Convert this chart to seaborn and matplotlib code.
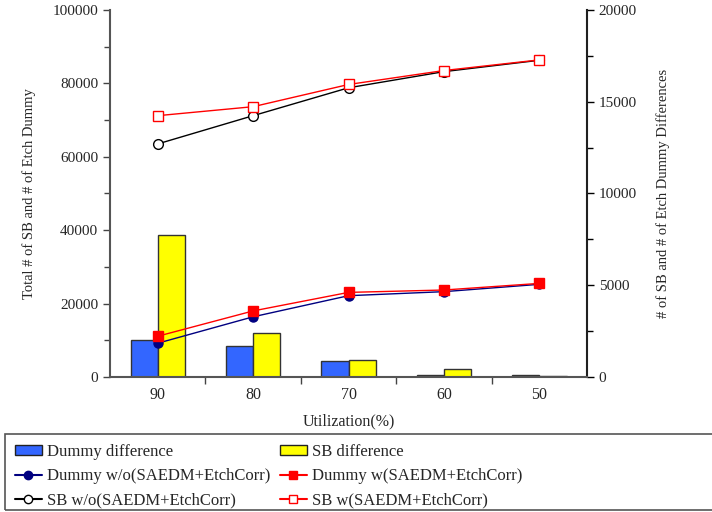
import pandas as pd
import numpy as np
import matplotlib
matplotlib.use("Agg")
import matplotlib.pyplot as plt
from matplotlib.ticker import MultipleLocator, FixedLocator
from matplotlib.lines import Line2D
from matplotlib.patches import Patch, Rectangle
import seaborn as sns

# values
util_labels = ["90", "80", "70", "60", "50"]

dummy_wo = [9200, 16400, 22150, 23250, 25250]
dummy_w = [11100, 18000, 23050, 23700, 25500]
sb_wo = [63500, 71200, 78800, 83200, 86300]
sb_w = [71200, 73650, 79700, 83500, 86400]

dummy_diff = [2000, 1690, 890, 90, 90]
sb_diff = [7740, 2400, 940, 420, 30]

sns.set_theme(style="white")
plt.rcParams["font.family"] = ["Liberation Serif", "DejaVu Serif"]

fig = plt.figure(figsize=(7.12, 5.12), dpi=100)
ax = fig.add_axes([0.1545, 0.2637, 0.67, 0.7168])
ax2 = ax.twinx()

# bars (differences) on the right axis
bars = pd.DataFrame({
    "util": util_labels * 2,
    "value": dummy_diff + sb_diff,
    "series": ["Dummy difference"] * 5 + ["SB difference"] * 5,
})
sns.barplot(data=bars, x="util", y="value", hue="series", order=util_labels,
            palette=["#3366FF", "#FFFF00"], saturation=1, width=0.57,
            edgecolor="#333333", linewidth=1.0, legend=False, ax=ax2)

# lines (totals) on the left axis
line_specs = [
    (dummy_wo, "#000080", "o", "#000080", 6.5),
    (dummy_w, "#FF0000", "s", "#FF0000", 7),
    (sb_wo, "#000000", "o", "white", 7),
    (sb_w, "#FF0000", "s", "white", 7),
]
for vals, col, mk, mfc, ms in line_specs:
    df = pd.DataFrame({"util": util_labels, "value": vals})
    sns.lineplot(data=df, x="util", y="value", color=col, marker=mk,
                 markerfacecolor=mfc, markeredgecolor=col, markersize=ms,
                 markeredgewidth=1.0, linewidth=1.0, sort=False, ax=ax)

ax.set_zorder(ax2.get_zorder() + 1)
ax.patch.set_visible(False)

ax.set_xlim(-0.5, 4.5)
ax.set_ylim(0, 100000)
ax2.set_ylim(0, 20000)

ax.set_xticks(range(5))
ax.set_xticklabels(util_labels)
ax.xaxis.set_minor_locator(FixedLocator([0.5, 1.5, 2.5, 3.5]))
ax.yaxis.set_major_locator(MultipleLocator(20000))
ax.yaxis.set_minor_locator(MultipleLocator(10000))
ax2.yaxis.set_major_locator(MultipleLocator(5000))
ax2.yaxis.set_minor_locator(MultipleLocator(2500))

ax.tick_params(axis="x", which="major", length=0, pad=7, labelsize=11.5)
ax.tick_params(axis="x", which="minor", direction="out", length=5, width=1, color="#444444", bottom=True)
ax.tick_params(axis="y", which="major", direction="out", length=5, width=1, color="#444444", labelsize=11, left=True)
ax.tick_params(axis="y", which="minor", direction="out", length=4, width=1, color="#444444", left=True)
ax2.tick_params(axis="y", which="major", direction="out", length=5, width=1, color="black", labelsize=11, right=True)
ax2.tick_params(axis="y", which="minor", direction="out", length=4, width=1, color="black", right=True)

for a in (ax, ax2):
    a.spines["top"].set_visible(False)
    a.grid(False)
ax.spines["left"].set_color("#555555")
ax.spines["bottom"].set_color("#555555")
ax2.spines["right"].set_color("black")
for s in ("left", "bottom"):
    ax.spines[s].set_linewidth(1.5)
ax2.spines["right"].set_linewidth(1.5)
ax2.spines["left"].set_visible(False)
ax2.spines["bottom"].set_visible(False)

ax.set_xlabel("Utilization(%)", fontsize=11.5, labelpad=8)
ax.set_ylabel("Total # of SB and # of Etch Dummy", fontsize=10.5, labelpad=12)
ax2.set_ylabel("# of SB and # of Etch Dummy Differences", fontsize=10.5, labelpad=14)
ax2.set_xlabel("")

handles = [
    Patch(facecolor="#3366FF", edgecolor="#222222"),
    Line2D([], [], color="#000080", marker="o", markerfacecolor="#000080", markersize=6),
    Line2D([], [], color="#000000", marker="o", markerfacecolor="white", markersize=6),
    Patch(facecolor="#FFFF00", edgecolor="#222222"),
    Line2D([], [], color="#FF0000", marker="s", markerfacecolor="#FF0000", markersize=6),
    Line2D([], [], color="#FF0000", marker="s", markerfacecolor="white", markersize=6),
]
labels = ["Dummy difference", "Dummy w/o(SAEDM+EtchCorr)", "SB w/o(SAEDM+EtchCorr)",
          "SB difference", "Dummy w(SAEDM+EtchCorr)", "SB w(SAEDM+EtchCorr)"]
leg = fig.legend(handles, labels, ncol=2, loc="upper left",
                 bbox_to_anchor=(0.021, 0.133), frameon=False,
                 fontsize=12, borderaxespad=0, borderpad=0,
                 handlelength=1.6, handleheight=0.6, handletextpad=0.35,
                 labelspacing=0.5, columnspacing=0.55)

# legend box running off the right edge, as in the reference
box = Rectangle((5 / 712, 2 / 512), 1.0, (512 - 434 - 2) / 512,
                transform=fig.transFigure, fill=False,
                edgecolor="#555555", linewidth=1.2)
fig.patches.append(box)

fig.savefig("out.png", dpi=100)
